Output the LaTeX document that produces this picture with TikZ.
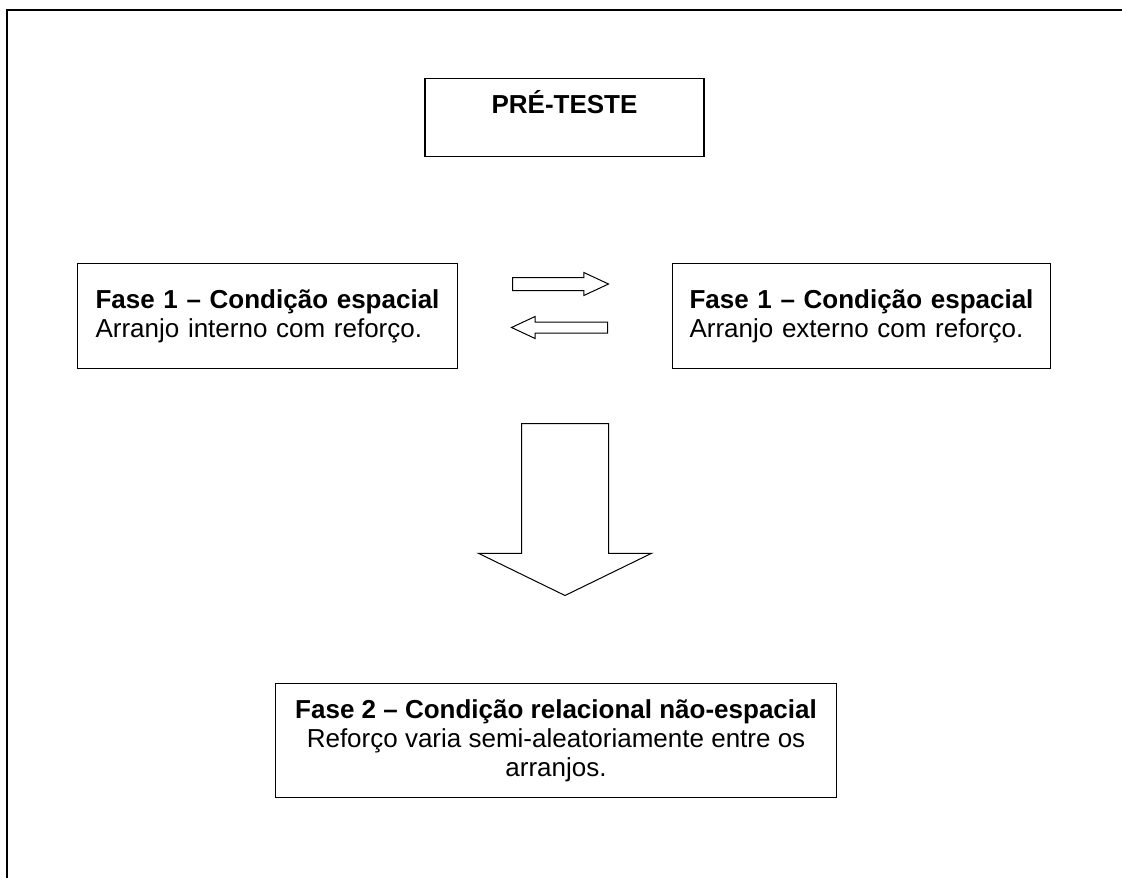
\documentclass[tikz,border=0pt]{standalone}
\usepackage{fontspec}
\setmainfont{Liberation Sans}
\usetikzlibrary{shapes.arrows}
\tikzset{
	caixa/.style={draw, line width=1.1pt, inner sep=0pt, font=\fontsize{26}{29}\selectfont},
	seta/.style={draw, single arrow, line width=1pt, inner xsep=0pt, single arrow head indent=0pt, anchor=tail},
}

\begin{document}
\begin{tikzpicture}[x=1pt, y=-1pt]
	\useasboundingbox (0,0) rectangle (1122,878);
	\draw[line width=1.6pt] (7,878) -- (7,10) -- (1122,10);

	\node[caixa, anchor=north, minimum width=279pt, text height=35pt, text depth=43pt] (pre) at (564.5,78) {\textbf{PRÉ-TESTE}};

	\node[caixa, anchor=north west, minimum width=380pt, minimum height=105pt, text width=344pt, align=left] (f1int) at (77,263)
		{\textbf{Fase 1 – Condição espacial}\\Arranjo interno com reforço.\\[8pt]};
	\node[caixa, anchor=north west, minimum width=378pt, minimum height=105pt, text width=344pt, align=left] (f1ext) at (672,263)
		{\textbf{Fase 1 – Condição espacial}\\Arranjo externo com reforço.\\[8pt]};

	\node[caixa, anchor=north west, minimum width=561pt, minimum height=114pt, align=center] (f2) at (275,683)
		{\textbf{Fase 2 – Condição relacional não-espacial}\\Reforço varia semi-aleatoriamente entre os\\arranjos.};

	\node[seta, inner ysep=6pt, minimum height=96pt, minimum width=22pt, single arrow head extend=5pt, single arrow tip angle=50] (dir) at (512,284) {};
	\node[seta, inner ysep=5pt, minimum height=96pt, minimum width=21pt, single arrow head extend=5.5pt, single arrow tip angle=50, rotate=180] (esq) at (608,327.5) {};
	\node[seta, inner ysep=43pt, minimum height=172pt, minimum width=172pt, single arrow head extend=43pt, single arrow tip angle=128, rotate=270] (baixo) at (565,423) {};
\end{tikzpicture}
\end{document}
